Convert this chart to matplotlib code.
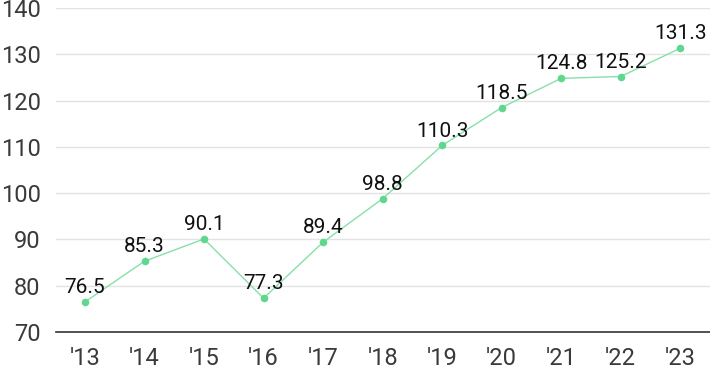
import matplotlib
matplotlib.use('Agg')
import matplotlib.pyplot as plt

plt.rcParams['font.family'] = ['Roboto', 'DejaVu Sans']

years = ["'13", "'14", "'15", "'16", "'17", "'18", "'19", "'20", "'21", "'22", "'23"]
values = [76.5, 85.3, 90.1, 77.3, 89.4, 98.8, 110.3, 118.5, 124.8, 125.2, 131.3]
yticks = [70, 80, 90, 100, 110, 120, 130, 140]

fig = plt.figure(figsize=(7.1, 3.71), dpi=100)
ax = fig.add_axes([56 / 710, 1 - 332 / 371, 654 / 710, 324 / 371])

x = list(range(len(years)))
ax.plot(x, values, color='#86e0a8', linewidth=1, zorder=3)
ax.scatter(x, values, s=30, color='#5fd88e', zorder=4, linewidths=0)

for xi, v in zip(x, values):
    ax.annotate(f'{v:.1f}', (xi, v), xytext=(0, 3.5), textcoords='offset points',
                ha='center', va='bottom', fontsize=15, color='#111111', zorder=5)

ax.set_xlim(-0.487, 10.5)
ax.set_ylim(70, 140)
ax.set_yticks(yticks)
ax.set_xticks(x)
ax.set_xticklabels(years)
ax.grid(axis='y', color='#e3e3e3', linewidth=1)
ax.set_axisbelow(True)

for side in ['top', 'right', 'left']:
    ax.spines[side].set_visible(False)
ax.spines['bottom'].set_color('#333333')
ax.spines['bottom'].set_linewidth(1.2)

ax.tick_params(axis='both', length=0, labelsize=17, labelcolor='#3a3a3a')
ax.tick_params(axis='y', pad=11)
ax.tick_params(axis='x', pad=11)

fig.savefig('out.png', dpi=100)
